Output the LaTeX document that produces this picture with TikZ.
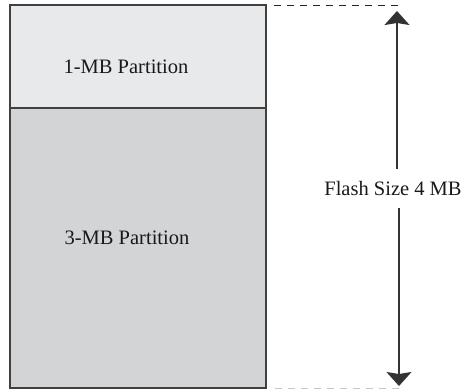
\documentclass[tikz,border=0pt]{standalone}
\usepackage{fontspec}
\setmainfont{Liberation Serif}
\usetikzlibrary{arrows.meta}
\definecolor{topfill}{HTML}{E8E9EB}
\definecolor{botfill}{HTML}{D3D4D6}
\definecolor{edge}{HTML}{404040}
\tikzset{
  lbl/.style={font=\fontsize{20.5}{24}\selectfont, text=black!90, inner sep=0pt},
  partbox/.style={draw=edge, line width=1.5pt},
  guide/.style={dash pattern=on 7pt off 6pt, line width=1pt},
  dimarrow/.style={draw=black!80, line width=1.2pt, -{Stealth[width=25pt,length=14pt,inset=2pt]}}
}
\begin{document}
\begin{tikzpicture}[x=1pt,y=-1pt]
\useasboundingbox (0,0) rectangle (464,389);
% partitions
\fill[topfill] (10,5) rectangle (266,108);
\fill[botfill] (10,108) rectangle (266,388);
\draw[partbox] (10,5) rectangle (266,388);
\draw[draw=edge, line width=2pt] (10,108) -- (267,108);
\node[lbl] (p1) at (126,67) {1-MB Partition};
\node[lbl] (p3) at (127,238) {3-MB Partition};
% guides
\coordinate (tl) at (274,5);
\coordinate (tr) at (399,5);
\coordinate (bl) at (275,388);
\coordinate (br) at (400,388);
\draw[guide, black!85] (tl) -- (tr);
\draw[guide, black!22] (bl) -- (br);
% dimension
\coordinate (top) at (397,11);
\coordinate (bot) at (399,386);
\node[lbl, minimum height=39pt] (lab) at (393,188.5) {Flash Size 4 MB};
\draw[dimarrow] (lab.north -| top) -- (top);
\draw[dimarrow] (lab.south -| bot) -- (bot);
\end{tikzpicture}
\end{document}
